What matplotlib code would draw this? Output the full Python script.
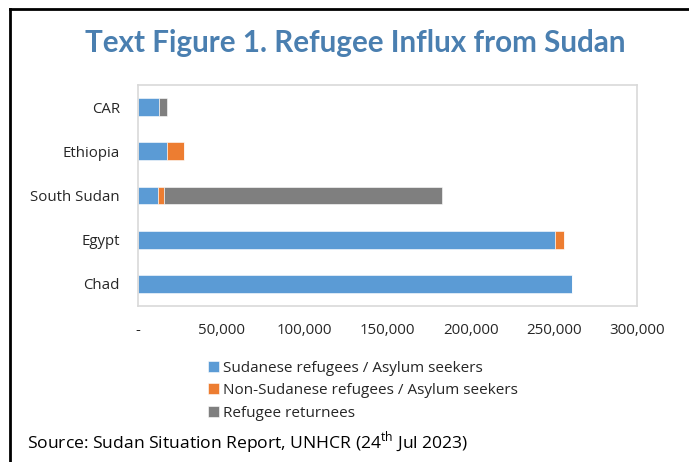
import matplotlib
matplotlib.use("Agg")
import matplotlib.pyplot as plt
from matplotlib.lines import Line2D
from matplotlib.ticker import FuncFormatter

plt.rcParams['font.family'] = ['Open Sans', 'DejaVu Sans']
plt.rcParams['mathtext.fontset'] = 'custom'
plt.rcParams['mathtext.rm'] = 'Open Sans'

countries = ["Chad", "Egypt", "South Sudan", "Ethiopia", "CAR"]
sudanese = [261000, 250500, 12200, 17700, 12600]
non_sudanese = [0, 5500, 3700, 9800, 0]
returnees = [0, 0, 167000, 0, 4700]
series_names = ["Sudanese refugees / Asylum seekers",
                "Non-Sudanese refugees / Asylum seekers",
                "Refugee returnees"]
colors = ["#5b9bd5", "#ed7d31", "#7f7f7f"]
xticks = [0, 50000, 100000, 150000, 200000, 250000, 300000]

W, H = 689, 462
fig = plt.figure(figsize=(W / 100, H / 100), dpi=100)
ax = fig.add_axes([138 / W, 1 - 306 / H, (637 - 138) / W, (306 - 85) / H])

y = list(range(len(countries)))
left = [0] * len(countries)
for vals, name, c in zip([sudanese, non_sudanese, returnees], series_names, colors):
    ax.barh(y, vals, left=left, height=0.4, color=c, label=name,
            edgecolor="white", linewidth=0.4)
    left = [a + b for a, b in zip(left, vals)]

ax.set_xlim(0, 300000)
ax.set_ylim(-0.5, len(countries) - 0.5)
ax.set_yticks(y)
ax.set_yticklabels(countries)
ax.set_xticks(xticks)
ax.xaxis.set_major_formatter(FuncFormatter(lambda v, p: "-" if v == 0 else f"{int(v):,}"))
ax.tick_params(axis="both", length=0, labelsize=10.8, colors="#262626")
ax.tick_params(axis="x", pad=12)
ax.tick_params(axis="y", pad=13)
for s in ax.spines.values():
    s.set_color("#d9d9d9")
    s.set_linewidth(1.2)

fig.text(355 / W, 1 - 43 / H, "Text Figure 1. Refugee Influx from Sudan",
         ha="center", va="center", fontsize=21.3, fontweight="bold",
         color="#4a7fb0", family=["Lato", "DejaVu Sans"])

handles, labels = ax.get_legend_handles_labels()
leg = fig.legend(handles, labels, loc="upper left",
                 bbox_to_anchor=(200 / W, 1 - 353 / H), frameon=False,
                 fontsize=11, handlelength=0.72, handleheight=0.72,
                 handletextpad=0.3, labelspacing=0.5, borderpad=0)
for t in leg.get_texts():
    t.set_color("#262626")

fig.text(27 / W, 1 - 443 / H, r"Source: Sudan Situation Report, UNHCR (24$^{\mathrm{th}}$ Jul 2023)",
         ha="left", va="center", fontsize=12.6, color="black")

fig.add_artist(Line2D([10 / W, 10 / W], [0, 1 - 9 / H], transform=fig.transFigure,
                      color="black", linewidth=2))
fig.add_artist(Line2D([10 / W, 1], [1 - 9 / H, 1 - 9 / H], transform=fig.transFigure,
                      color="black", linewidth=2))

fig.savefig("out.png", dpi=100)
